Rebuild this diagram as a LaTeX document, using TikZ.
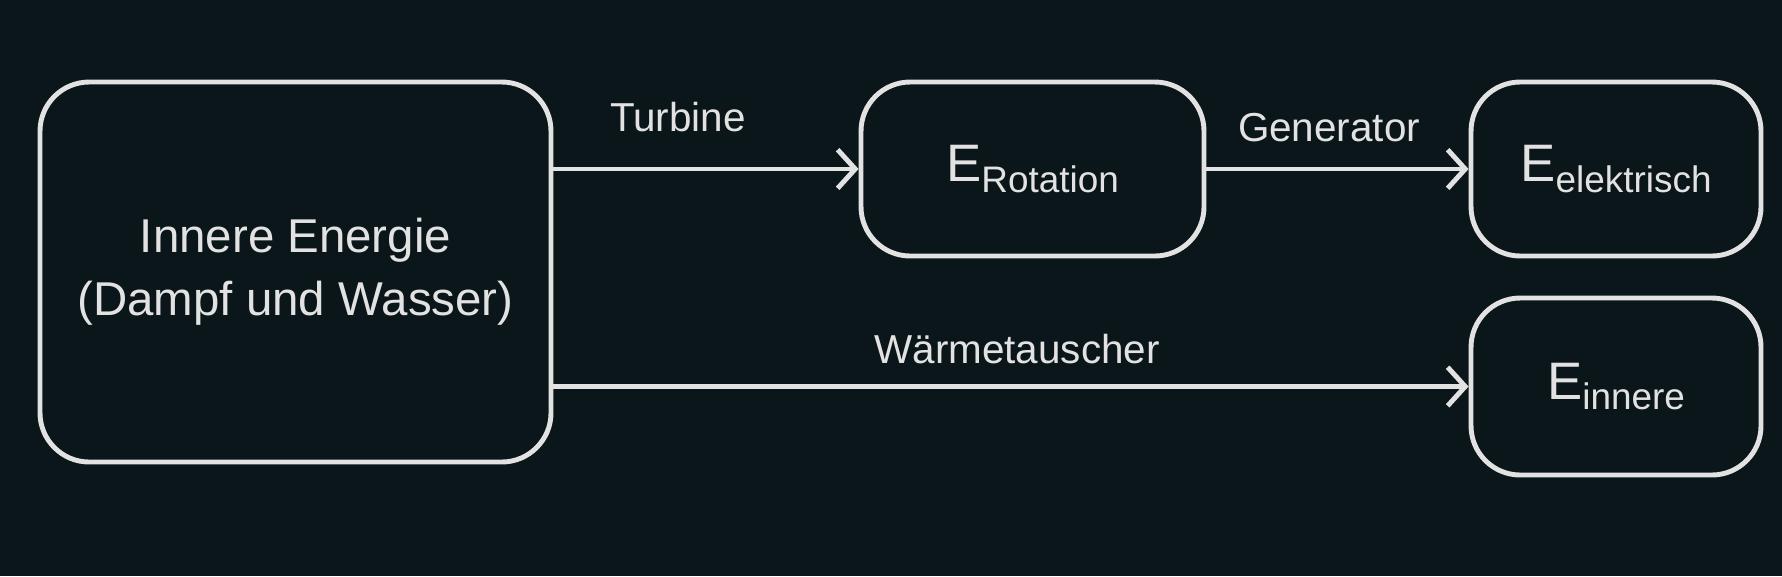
\documentclass[tikz,border=0pt]{standalone}
\usepackage{fontspec}
\setmainfont{Liberation Sans}
\usetikzlibrary{arrows.meta,positioning}
\definecolor{bgdark}{HTML}{0B161B}
\definecolor{linegray}{HTML}{E2E2E2}
\tikzset{
	box/.style={draw=linegray, line width=1.4pt, rounded corners=14pt, text=linegray, align=center, inner sep=0pt},
	flow/.style={draw=linegray, line width=1.4pt, -{Straight Barb[length=5pt,width=11pt,line width=1.4pt]}},
	lbl/.style={text=linegray, font=\fontsize{11.5}{14}\selectfont}
}
\newcommand{\Esub}[1]{{\fontsize{15}{18}\selectfont E}\raisebox{-0.55ex}{\fontsize{10.5}{12}\selectfont #1}}
\begin{document}
\begin{tikzpicture}
		\fill[bgdark] (0, 0) rectangle (17.82, 5.76);
		\useasboundingbox (0, 0) rectangle (17.82, 5.76);

		\node[box, minimum width=5.11cm, minimum height=3.80cm, font=\fontsize{13.5}{18}\selectfont]
			(inner) at (2.955, 3.04) {Innere Energie\\(Dampf und Wasser)};
		\node[box, minimum width=3.43cm, minimum height=1.74cm] (rot) at (10.325, 4.07) {\Esub{Rotation}};
		\node[box, minimum width=2.90cm, minimum height=1.74cm] (elek) at (16.16, 4.07) {\Esub{elektrisch}};
		\node[box, minimum width=2.90cm, minimum height=1.77cm] (inn) at (16.16, 1.895) {\Esub{innere}};

		\draw[flow] (inner.east |- rot.west) to (rot.west);
		\draw[flow] (rot.east) to (elek.west);
		\draw[flow] (inner.east |- inn.west) to (inn.west);

		\node[lbl] (turb) at (6.78, 4.59) {Turbine};
		\node[lbl] (gen) at (13.29, 4.48) {Generator};
		\node[lbl] (waerme) at (10.17, 2.27) {Wärmetauscher};
	\end{tikzpicture}
\end{document}
